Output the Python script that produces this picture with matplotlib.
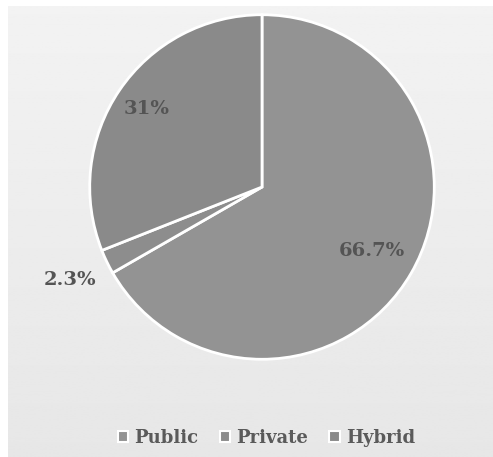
import numpy as np
import matplotlib.pyplot as plt
from matplotlib.patches import Patch

# cloud deployment share
labels = ['Public', 'Private', 'Hybrid']
shares = [66.7, 2.3, 31]
pct_text = ['66.7%', '2.3%', '31%']

colors = ['#939393', '#8d8d8d', '#8a8a8a']
font = dict(family='DejaVu Serif', weight='bold')

fig = plt.figure(figsize=(4.93, 4.57), dpi=100)
fig.patch.set_facecolor('white')

# shaded panel behind the chart
bg = fig.add_axes([8 / 493, 0, 1 - 8 / 493, 1 - 6 / 457])
grad = np.linspace(0.95, 0.905, 256).reshape(-1, 1)
bg.imshow(grad, cmap='gray', vmin=0, vmax=1, aspect='auto', extent=[0, 1, 0, 1])
bg.axis('off')

ax = fig.add_axes([88 / 493, (457 - 361) / 457, 348 / 493, 348 / 457])
wedges, _ = ax.pie(shares, colors=colors, startangle=90, counterclock=False,
                   wedgeprops=dict(edgecolor='white', linewidth=2))
ax.set_xlim(-1.01, 1.01)
ax.set_ylim(-1.01, 1.01)
ax.set_aspect('equal')

# label radius for each slice
radii = [0.74, 1.24, 0.81]
for w, txt, r in zip(wedges, pct_text, radii):
    ang = np.deg2rad((w.theta1 + w.theta2) / 2)
    ax.text(r * np.cos(ang), r * np.sin(ang), txt, ha='center', va='center',
            fontsize=14, color='#545454', **font)

handles = [Patch(facecolor=c, edgecolor='white', linewidth=1.5) for c in colors]
fig.legend(handles, labels, loc='center', bbox_to_anchor=(0.54, 0.042), ncol=3,
           frameon=False, prop=dict(size=13, **font), labelcolor='#5a5a5a',
           handlelength=0.6, handleheight=0.6, handletextpad=0.3, columnspacing=1.2)

fig.savefig('out.png', dpi=100)
